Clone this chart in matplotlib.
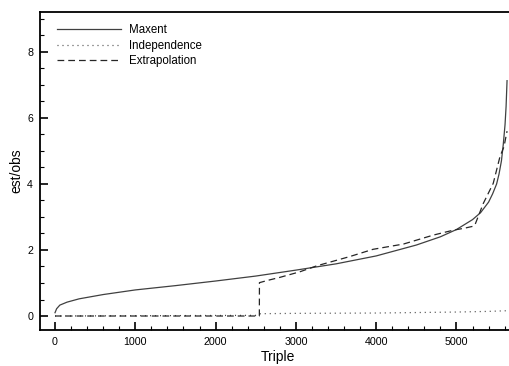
import matplotlib
matplotlib.use('Agg')
import matplotlib.pyplot as plt
from matplotlib.ticker import MultipleLocator

plt.rcParams.update({'font.family': ['Liberation Sans', 'DejaVu Sans']})

# Maxent curve
maxent_x = [0, 20, 60, 150, 300, 600, 1000, 1500, 2000, 2500, 3000, 3500,
            4000, 4500, 4800, 5000, 5200, 5300, 5400, 5450, 5500, 5530, 5560,
            5583, 5605, 5618, 5630]
maxent_y = [0.10, 0.22, 0.33, 0.42, 0.52, 0.65, 0.79, 0.92, 1.06, 1.21, 1.39, 1.58,
            1.82, 2.15, 2.40, 2.62, 2.92, 3.13, 3.45, 3.70, 4.00, 4.30, 4.70,
            5.20, 5.80, 6.35, 7.13]

# Independence curve
indep_x = [0, 2500, 2560, 3000, 4000, 5000, 5400, 5630]
indep_y = [0.0, 0.02, 0.07, 0.08, 0.09, 0.12, 0.14, 0.16]

# Extrapolation curve
extra_x = [0, 2545, 2546, 2650, 2800, 3050, 3260, 3670, 3960, 4340, 4710, 4960,
           5100, 5209, 5230, 5334, 5458, 5542, 5592, 5630]
extra_y = [0.0, 0.0, 1.01, 1.08, 1.17, 1.34, 1.52, 1.80, 2.02, 2.18, 2.45, 2.60,
           2.66, 2.72, 2.76, 3.41, 4.02, 4.83, 5.13, 5.60]

fig = plt.figure(figsize=(5.1, 3.66), dpi=100)
ax = fig.add_axes([40 / 510, 36 / 366, 475 / 510, 318 / 366])

ax.plot(maxent_x, maxent_y, color='0.25', lw=0.9, label='Maxent')
ax.plot(indep_x, indep_y, color='0.25', lw=0.9, dashes=(0.8, 3.2), label='Independence')
ax.plot(extra_x, extra_y, color='0.15', lw=0.9, dashes=(5.4, 3.2), label='Extrapolation')

ax.set_xlim(-187, 5729)
ax.set_ylim(-0.424, 9.21)
ax.xaxis.set_major_locator(MultipleLocator(1000))
ax.xaxis.set_minor_locator(MultipleLocator(200))
ax.yaxis.set_major_locator(MultipleLocator(2))
ax.yaxis.set_minor_locator(MultipleLocator(0.5))

ax.tick_params(which='both', direction='in', top=False, right=False, labelsize=7.7, pad=5)
ax.tick_params(which='major', length=6, width=1.2)
ax.tick_params(which='minor', length=3, width=0.8)
for s in ax.spines.values():
    s.set_linewidth(1.3)

ax.set_xlabel('Triple', fontsize=10, labelpad=2)
ax.set_ylabel('est/obs', fontsize=10, labelpad=2.5)

ax.legend(loc='upper left', frameon=False, fontsize=8.3, handlelength=5.6,
          handletextpad=0.7, labelspacing=0.3, borderaxespad=0.3,
          bbox_to_anchor=(0.018, 0.987))

fig.savefig('out.png', dpi=100)
